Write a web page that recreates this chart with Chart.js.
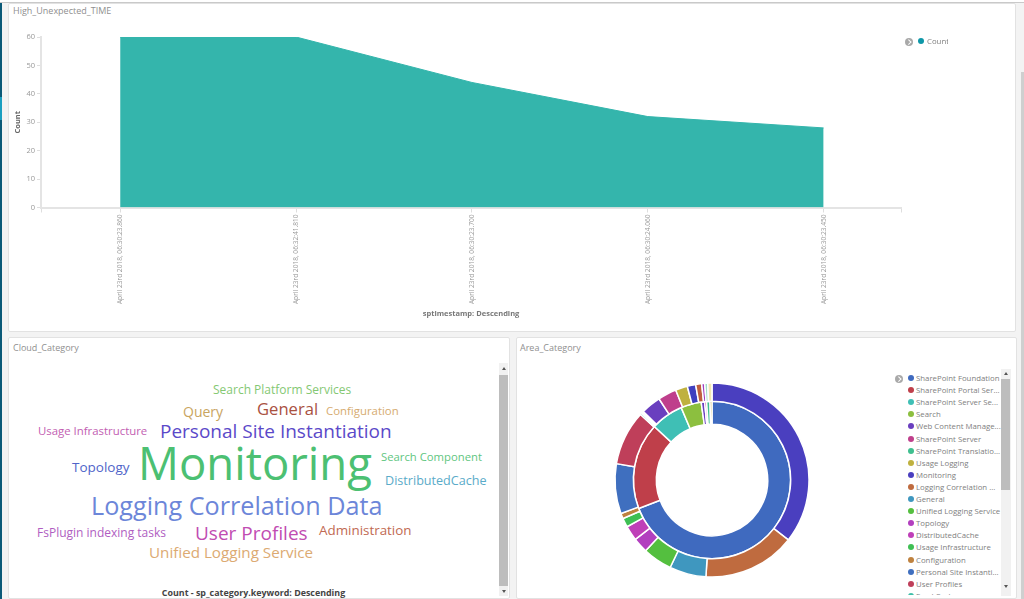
<!DOCTYPE html>
<html>
<head>
<meta charset="utf-8">
<title>Dashboard</title>
<script src="https://cdn.jsdelivr.net/npm/chart.js@4"></script>
<style>
  html, body { margin: 0; padding: 0; background: #f3f3f3; overflow: hidden; font-family: "Open Sans", sans-serif; }
  #page { position: relative; width: 1024px; height: 599px; overflow: hidden; }
  .panel { position: absolute; background: #fff; border: 1px solid #e2e2e2; box-sizing: border-box; border-radius: 2px; }
  .title { position: absolute; font-size: 9px; color: #8f8f8f; white-space: nowrap; }
  canvas { position: absolute; }
  .word { position: absolute; white-space: nowrap; line-height: 1; transform: translateY(-50%); }
  .track { position: absolute; background: #f1f1f1; }
  .thumb { position: absolute; background: #bdbdbd; }
  .up, .down { position: absolute; width: 0; height: 0; border-left: 2px solid transparent; border-right: 2px solid transparent; }
  .up { border-bottom: 3px solid #555; }
  .down { border-top: 3px solid #555; }
  .dot { position: absolute; width: 6px; height: 6px; border-radius: 50%; }
  .leg { position: absolute; font-size: 7.8px; color: #808080; white-space: nowrap; line-height: 10px; }
  .toggle { position: absolute; width: 8px; height: 8px; border-radius: 50%; background: #a9a9a9; }
  .toggle:after { content: ""; position: absolute; left: 1.5px; top: 2px; width: 2.5px; height: 2.5px; border-top: 1px solid #fff; border-right: 1px solid #fff; transform: rotate(45deg); }
</style>
</head>
<body>
<div id="page">
  <div style="position:absolute;left:0;top:0;width:1024px;height:3px;background:#fff;border-bottom:1px solid #c9c9c9;box-sizing:border-box"></div>
  <div style="position:absolute;left:0;top:3px;width:2px;height:596px;background:#0b5a78"></div>
  <div style="position:absolute;left:0;top:97px;width:2px;height:23px;background:#1b9fc0"></div>
  <div style="position:absolute;left:1021px;top:72px;width:3px;height:527px;background:#cfcfcf"></div>

  <div class="panel" style="left:8px;top:3px;width:1008px;height:329px"></div>
  <div class="panel" style="left:8px;top:337px;width:502px;height:262px"></div>
  <div class="panel" style="left:516px;top:337px;width:501px;height:262px"></div>

  <div class="title" style="left:13px;top:4px">High_Unexpected_TIME</div>
  <div class="title" style="left:13px;top:341px">Cloud_Category</div>
  <div class="title" style="left:520px;top:341px">Area_Category</div>

  <canvas id="timeChart" width="1005" height="305" style="left:9px;top:20px"></canvas>
  <div class="toggle" style="left:905px;top:38px"></div>
  <div class="dot" style="left:918px;top:37.5px;background:#0e97a8"></div>
  <div style="position:absolute;left:927px;top:35.5px;width:21px;overflow:hidden"><div class="leg" style="position:static">Count</div></div>

  <div id="cloud"></div>
  <div style="position:absolute;left:8px;width:491px;top:586px;text-align:center;font-size:8.9px;font-weight:700;color:#444;white-space:nowrap">Count - sp_category.keyword: Descending</div>
  <div class="track" style="left:499px;top:363px;width:9px;height:233px"></div>
  <div class="thumb" style="left:499px;top:375px;width:9px;height:211px"></div>
  <div class="up" style="left:502px;top:367px"></div>
  <div class="down" style="left:502px;top:590px"></div>

  <canvas id="areaChart" width="200" height="200" style="left:612px;top:380px"></canvas>
  <div class="toggle" style="left:895px;top:375px"></div>
  <div id="legend" style="position:absolute;left:905px;top:372px;width:96px;height:223px;overflow:hidden"></div>
  <div class="track" style="left:1001px;top:369px;width:10px;height:227px"></div>
  <div class="thumb" style="left:1001px;top:379px;width:9px;height:111px"></div>
  <div class="up" style="left:1004px;top:372px"></div>
  <div class="down" style="left:1004px;top:585px"></div>
</div>

<script>
// top chart
const timeLabels = [
  'April 23rd 2018, 06:30:23.860',
  'April 23rd 2018, 06:32:41.810',
  'April 23rd 2018, 06:30:23.700',
  'April 23rd 2018, 06:30:24.060',
  'April 23rd 2018, 06:30:23.450'
];
const timeCounts = [60, 60, 44, 32, 28];

// word cloud
const cloudWords = ['Search Platform Services', 'Query', 'General', 'Configuration', 'Usage Infrastructure',
  'Personal Site Instantiation', 'Monitoring', 'Search Component', 'Topology', 'DistributedCache',
  'Logging Correlation Data', 'FsPlugin indexing tasks', 'User Profiles', 'Administration', 'Unified Logging Service'];
const cloudColors = ['#84c873', '#c9a55f', '#a9513f', '#d6ab70', '#c25eb2',
  '#5b49c9', '#4cc072', '#5fc67f', '#5064c9', '#5aabc9',
  '#6c86d9', '#b05ec2', '#c14cb2', '#c16a52', '#dcaa72'];
const cloudX = [213, 183, 257, 326, 38, 160, 138, 381, 72, 385, 91, 37, 195, 319, 149];
const cloudY = [390, 412, 409, 411, 431, 431, 463, 457, 468, 481, 506, 533, 533, 531, 553];
const cloudPx = [12, 14, 16.6, 11.4, 11.4, 19, 45.5, 11.3, 13.5, 12.6, 25.2, 12, 19, 13.4, 15.2];

// pie: inner ring
const innerLabels = ['SharePoint Foundation', 'SharePoint Portal Ser...', 'SharePoint Server Se...', 'Search',
  'Web Content Manage...', 'SharePoint Server', 'SharePoint Translatio...', 'Usage Logging'];
const innerValues = [69.1, 17.8, 6.7, 4.2, 0.7, 0.4, 0.7, 0.4];
const innerColors = ['#3f6abf', '#bf3f4a', '#3fbfb5', '#8cbf3f', '#6a3fbf', '#bf3f8c', '#3fbf8f', '#bfb13f'];

// pie: outer ring
const outerLabels = ['Monitoring', 'Logging Correlation ...', 'General', 'Unified Logging Service', 'Topology',
  'DistributedCache', 'Usage Infrastructure', 'Configuration', 'Personal Site Instanti...', 'User Profiles',
  'Feed Cache', 'Search Component', 'Query', 'Administration', 'Search Platform Services', 'FsPlugin indexing tasks',
  'Other', 'Other', 'Other', 'Other', 'Other'];
const outerValues = [35.6, 15.4, 6.1, 4.9, 2.5, 2.5, 1.5, 0.9, 8.3, 9.1, 0.3, 0.2, 0.2, 3.3, 3.1, 2.0, 1.4, 1.0, 0.5, 0.5, 0.7];
const outerColors = ['#4a3fbf', '#bf6b3f', '#3f97bf', '#54bf3f', '#b23fbf', '#bf3fb8', '#3fbf54', '#bf823f',
  '#3f6fbf', '#bf3f5a', '#3fbfa8', '#6abf3f', '#bfbf3f', '#6a3fbf', '#bf3f8c', '#bfb13f', '#3f3fbf', '#bf5f3f',
  '#a23fbf', '#9fdcc8', '#f0e6b0'];

const legendLabels = innerLabels.concat(outerLabels.slice(0, 11));
const legendColors = innerColors.concat(outerColors.slice(0, 11));

function buildCloud() {
  const cloud = document.getElementById('cloud');
  cloudWords.forEach((w, i) => {
    const el = document.createElement('div');
    el.className = 'word';
    el.textContent = w;
    el.style.left = cloudX[i] + 'px';
    el.style.top = cloudY[i] + 'px';
    el.style.fontSize = cloudPx[i] + 'px';
    el.style.color = cloudColors[i];
    cloud.appendChild(el);
  });
}

function buildLegend() {
  const legend = document.getElementById('legend');
  legendLabels.forEach((label, i) => {
    const top = i * 12.1;
    const dot = document.createElement('div');
    dot.className = 'dot';
    dot.style.cssText = `left:3px;top:${top + 3}px;background:${legendColors[i]}`;
    const txt = document.createElement('div');
    txt.className = 'leg';
    txt.style.cssText = `left:11px;top:${top + 1}px`;
    txt.textContent = label;
    legend.appendChild(dot);
    legend.appendChild(txt);
  });
}

function initTimeChart() {
  const points = timeCounts.map((c, i) => ({ x: i, y: c }));
  new Chart(document.getElementById('timeChart'), {
    type: 'line',
    data: {
      datasets: [{
        label: 'Count',
        data: points,
        fill: 'origin',
        backgroundColor: '#34b5ac',
        borderColor: '#34b5ac',
        borderWidth: 1,
        pointRadius: 0,
        tension: 0
      }]
    },
    options: {
      responsive: false,
      animation: false,
      layout: { padding: { top: 17, right: 113, left: 0, bottom: 0 } },
      plugins: { legend: { display: false }, tooltip: { enabled: false } },
      scales: {
        x: {
          type: 'linear',
          min: -0.45,
          max: 4.44,
          afterBuildTicks: function(scale) {
            scale.ticks = [{ value: -0.45 }].concat(timeLabels.map((_, i) => ({ value: i })), [{ value: 4.44 }]);
          },
          afterFit: function(scale) { scale.height = 117.5; },
          grid: { drawOnChartArea: false, color: '#dedede', tickLength: 5 },
          border: { color: '#e4e4e4', width: 2 },
          ticks: {
            autoSkip: false,
            minRotation: 90,
            maxRotation: 90,
            padding: 2,
            color: '#999',
            font: { family: 'Open Sans', size: 6.6 },
            callback: function(value) { return timeLabels[value] || ''; }
          },
          title: {
            display: true,
            text: 'sptimestamp: Descending',
            color: '#777',
            font: { family: 'Open Sans', size: 7.5, weight: 'bold' },
            padding: { top: 0, bottom: 7 }
          }
        },
        y: {
          min: 0,
          max: 60,
          afterFit: function(scale) { scale.width = 32; },
          grid: { drawOnChartArea: false, color: '#dedede', tickLength: 4 },
          border: { color: '#e4e4e4', width: 2 },
          ticks: {
            stepSize: 10,
            padding: 2,
            color: '#999',
            font: { family: 'Open Sans', size: 7.5 }
          },
          title: {
            display: true,
            text: 'Count',
            color: '#666',
            font: { family: 'Open Sans', size: 7.5, weight: 'bold' },
            padding: { top: 4, bottom: 0 }
          }
        }
      }
    }
  });
}

function initAreaChart() {
  new Chart(document.getElementById('areaChart'), {
    type: 'doughnut',
    data: {
      labels: outerLabels,
      datasets: [
        { data: outerValues, backgroundColor: outerColors, borderColor: '#fff', borderWidth: 1.5, weight: 1 },
        { data: innerValues, backgroundColor: innerColors, borderColor: '#fff', borderWidth: 1.5, weight: 1.25 }
      ]
    },
    options: {
      responsive: false,
      animation: false,
      radius: 97,
      cutout: 57,
      plugins: { legend: { display: false }, tooltip: { enabled: false } }
    }
  });
}

buildCloud();
buildLegend();
initTimeChart();
initAreaChart();
</script>
</body>
</html>
